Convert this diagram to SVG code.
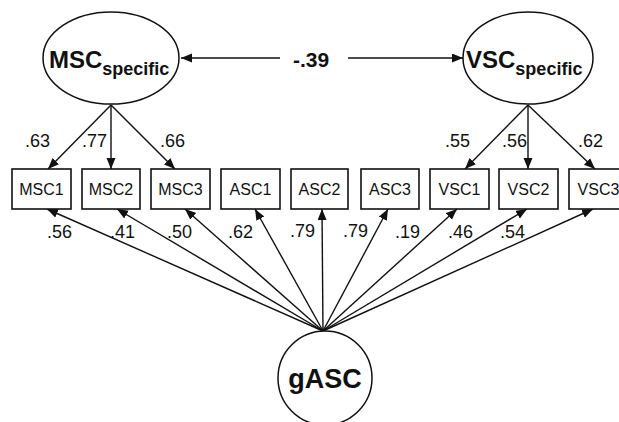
<svg xmlns="http://www.w3.org/2000/svg" width="619" height="422" viewBox="0 0 619 422">
<style>
.node{fill:#fff;stroke:#111;stroke-width:1.5}
.box{fill:#fff;stroke:#111;stroke-width:1.6}
.bt{font-family:"Liberation Sans",Arial,sans-serif;font-size:16px;fill:#111;text-anchor:middle}
.lbl{font-family:"Liberation Sans",Arial,sans-serif;font-size:18px;fill:#111}
.big{font-family:"Liberation Sans",Arial,sans-serif;font-weight:bold;fill:#111}
.edge{stroke:#111;stroke-width:1.4;fill:none;marker-end:url(#ah)}
</style>
<defs>
<marker id="ah" markerUnits="userSpaceOnUse" markerWidth="12" markerHeight="10" refX="11" refY="4.5" orient="auto">
<path d="M0,0 L11,4.5 L0,9 z" fill="#111"/>
</marker>
</defs>
<rect width="619" height="422" fill="#fff"/>
<g id="connectors">
<line class="edge" x1="280" y1="58" x2="181" y2="58"/>
<line class="edge" x1="348" y1="58" x2="463" y2="58"/>
<line class="edge" x1="111" y1="105" x2="48" y2="169"/>
<line class="edge" x1="111" y1="105" x2="111" y2="169"/>
<line class="edge" x1="111" y1="105" x2="175" y2="169"/>
<line class="edge" x1="528" y1="105" x2="465" y2="169"/>
<line class="edge" x1="528" y1="105" x2="528" y2="169"/>
<line class="edge" x1="528" y1="105" x2="595" y2="169"/>
<line class="edge" x1="323" y1="331" x2="47" y2="209"/>
<line class="edge" x1="323" y1="331" x2="117" y2="209"/>
<line class="edge" x1="323" y1="331" x2="185" y2="209"/>
<line class="edge" x1="323" y1="331" x2="255" y2="209"/>
<line class="edge" x1="323" y1="331" x2="322" y2="209"/>
<line class="edge" x1="323" y1="331" x2="388" y2="209"/>
<line class="edge" x1="323" y1="331" x2="457" y2="209"/>
<line class="edge" x1="323" y1="331" x2="527" y2="209"/>
<line class="edge" x1="323" y1="331" x2="593" y2="209"/>
</g>
<g id="labels">
<text class="big" x="293" y="67" font-size="21">-.39</text>
<text class="lbl" x="25" y="147">.63</text>
<text class="lbl" x="82" y="147">.77</text>
<text class="lbl" x="160" y="147">.66</text>
<text class="lbl" x="445" y="147">.55</text>
<text class="lbl" x="502" y="147">.56</text>
<text class="lbl" x="578" y="147">.62</text>
<text class="lbl" x="47" y="238">.56</text>
<text class="lbl" x="110" y="238">.41</text>
<text class="lbl" x="167" y="238">.50</text>
<text class="lbl" x="228" y="238">.62</text>
<text class="lbl" x="290" y="237">.79</text>
<text class="lbl" x="343" y="237">.79</text>
<text class="lbl" x="395" y="238">.19</text>
<text class="lbl" x="448" y="238">.46</text>
<text class="lbl" x="500" y="238">.54</text>
</g>
<g id="MSCspecific">
<ellipse class="node" cx="111" cy="58" rx="68" ry="46"/>
<text class="big" x="49" y="68" font-size="24">MSC<tspan font-size="18" dy="7">specific</tspan></text>
</g>
<g id="VSCspecific">
<ellipse class="node" cx="528" cy="58" rx="65" ry="46"/>
<text class="big" x="466" y="68" font-size="24">VSC<tspan font-size="18" dy="7">specific</tspan></text>
</g>
<g id="MSC1"><rect class="box" x="12" y="169" width="59" height="40"/><text class="bt" x="41.5" y="195">MSC1</text></g>
<g id="MSC2"><rect class="box" x="82" y="169" width="58" height="40"/><text class="bt" x="111" y="195">MSC2</text></g>
<g id="MSC3"><rect class="box" x="151" y="169" width="59" height="40"/><text class="bt" x="180.5" y="195">MSC3</text></g>
<g id="ASC1"><rect class="box" x="221" y="169" width="59" height="40"/><text class="bt" x="250.5" y="195">ASC1</text></g>
<g id="ASC2"><rect class="box" x="291" y="169" width="57" height="40"/><text class="bt" x="319.5" y="195">ASC2</text></g>
<g id="ASC3"><rect class="box" x="361" y="169" width="58" height="40"/><text class="bt" x="390" y="195">ASC3</text></g>
<g id="VSC1"><rect class="box" x="430" y="169" width="59" height="40"/><text class="bt" x="459.5" y="195">VSC1</text></g>
<g id="VSC2"><rect class="box" x="499" y="169" width="59" height="40"/><text class="bt" x="528.5" y="195">VSC2</text></g>
<g id="VSC3"><rect class="box" x="569" y="169" width="59" height="40"/><text class="bt" x="598.5" y="195">VSC3</text></g>
<g id="gASC">
<circle class="node" cx="325" cy="378" r="47"/>
<text class="big" x="325" y="388" font-size="27" text-anchor="middle">gASC</text>
</g>
</svg>
